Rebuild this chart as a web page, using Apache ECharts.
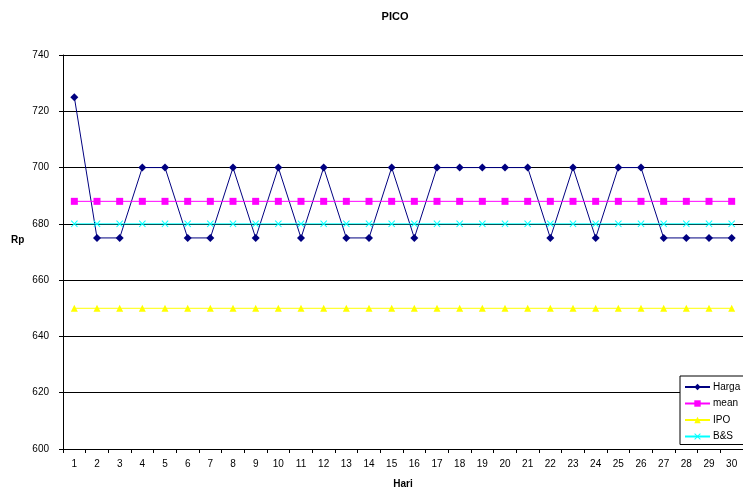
<!DOCTYPE html>
<html><head><meta charset="utf-8">
<script src="https://cdn.jsdelivr.net/npm/echarts@6/dist/echarts.min.js"></script>
<style>html,body{margin:0;padding:0;background:#fff}#c{width:743px;height:494px}</style>
</head><body><div id="c"></div>
<script>
const days = Array.from({length:30},(_,i)=>String(i+1));
const harga = [725,675,675,700,700,675,675,700,675,700,675,700,675,675,700,675,700,700,700,700,700,675,700,675,700,700,675,675,675,675];
const mean = [688,688,688,688,688,688,688,688,688,688,688,688,688,688,688,688,688,688,688,688,688,688,688,688,688,688,688,688,688,688];
const ipo = [650,650,650,650,650,650,650,650,650,650,650,650,650,650,650,650,650,650,650,650,650,650,650,650,650,650,650,650,650,650];
const bs = [680,680,680,680,680,680,680,680,680,680,680,680,680,680,680,680,680,680,680,680,680,680,680,680,680,680,680,680,680,680];

const X = 'path://M1,0L5,4L9,0L10,1L6,5L10,9L9,10L5,6L1,10L0,9L4,5L0,1Z';
const font = 'Liberation Sans, Arial, sans-serif';
const chart = echarts.init(document.getElementById('c'));
function s(name, data, color, symbol, size){
  return {name, type:'line', data, symbol, symbolSize:size, showAllSymbol:true,
    lineStyle:{color, width:1}, itemStyle:{color}, animation:false};
}
chart.setOption({
  animation:false,
  textStyle:{fontFamily:font},
  title:{text:'PICO', left:390, top:6, textAlign:'center',
    textStyle:{fontSize:11, fontWeight:'bold', color:'#000', fontFamily:font}},
  graphic:[{type:'text', left:11, top:235, style:{text:'Rp', fontSize:10, fontWeight:'bold', fill:'#000', fontFamily:font}}],
  grid:{left:63, right:-6, top:55, bottom:44},
  legend:{orient:'vertical', left:680, top:376, data:['Harga','mean','IPO','B&S'],
    borderColor:'#000', borderWidth:1, backgroundColor:'#fff', padding:[6,14,3,4],
    itemGap:6.5, itemWidth:25, itemHeight:8,
    textStyle:{fontSize:10, color:'#000', fontFamily:font, padding:[0,0,0,-2]}},
  xAxis:{type:'category', data:days, boundaryGap:true,
    name:'Hari', nameLocation:'middle', nameGap:30,
    nameTextStyle:{fontSize:10, fontWeight:'bold', color:'#000'},
    axisLine:{lineStyle:{color:'#000', width:1}},
    axisTick:{show:true, inside:false, length:4, alignWithLabel:false, lineStyle:{color:'#000'}},
    axisLabel:{fontSize:10, color:'#000', margin:10, interval:0}},
  yAxis:{type:'value', min:600, max:740, interval:20,
    axisLine:{show:true, lineStyle:{color:'#000', width:1}},
    axisTick:{show:true, length:4, lineStyle:{color:'#000'}},
    axisLabel:{fontSize:10, color:'#000', margin:14},
    splitLine:{lineStyle:{color:'#000', width:1}}},
  series:[
    s('Harga', harga, '#000080', 'diamond', 8),
    s('mean', mean, '#FF00FF', 'rect', 7),
    s('IPO', ipo, '#FFFF00', 'triangle', 7),
    s('B&S', bs, '#00FFFF', X, 7)
  ]
});
</script></body></html>
